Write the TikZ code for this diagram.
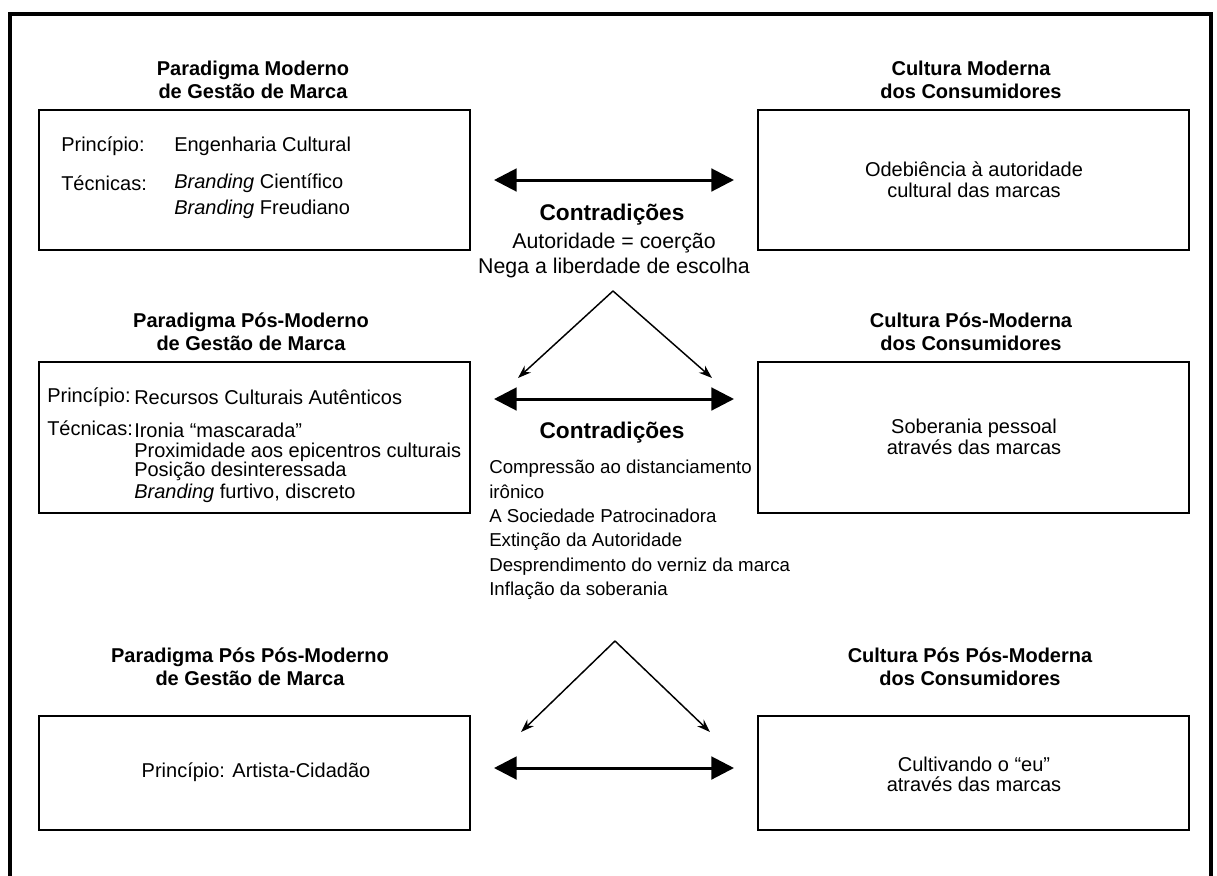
\documentclass[tikz,border=0pt]{standalone}
\usepackage{fontspec}
\setmainfont{Liberation Sans}
\usetikzlibrary{arrows.meta}
\begin{document}
\begin{tikzpicture}[x=0.75pt,y=-0.75pt,
 box/.style={draw,line width=1.5pt,minimum width=323.25pt,inner sep=0pt},
 head/.style={font=\fontsize{15}{17.25}\selectfont\bfseries,align=center,inner sep=0pt},
 txt/.style={font=\fontsize{15}{19}\selectfont,inner sep=0pt,anchor=west},
 ctxt/.style={font=\fontsize{15}{15.5}\selectfont,align=center,inner sep=0pt},
 ctitle/.style={font=\fontsize{17}{20}\selectfont\bfseries,inner sep=0pt},
 clist/.style={font=\fontsize{16}{18.75}\selectfont,align=center,inner sep=0pt},
 bigarrow/.style={line width=2.25pt,{Triangle[length=17pt,width=17pt]}-{Triangle[length=17pt,width=17pt]}},
 thinarrow/.style={line width=1.1pt,-{Stealth[length=10pt,width=7pt]}}]
\useasboundingbox (0,0) rectangle (1217,875);
\fill[white] (0,0) rectangle (1217,875);
\draw[line width=3pt] (10,14) rectangle (1211,910);

% headers
\node[head] (h1) at (253,79.5) {Paradigma Moderno\\de Gestão de Marca};
\node[head] (h2) at (971,79.5) {Cultura Moderna\\dos Consumidores};
\node[head] (h3) at (251,331.5) {Paradigma Pós-Moderno\\de Gestão de Marca};
\node[head] (h4) at (971,331.5) {Cultura Pós-Moderna\\dos Consumidores};
\node[head] (h5) at (250,667) {Paradigma Pós Pós-Moderno\\de Gestão de Marca};
\node[head] (h6) at (970,667) {Cultura Pós Pós-Moderna\\dos Consumidores};

% boxes
\node[box,minimum height=105pt] (b1) at (254.5,180) {};
\node[box,minimum height=105pt] (b2) at (973.5,180) {};
\node[box,minimum height=113.25pt] (b3) at (254.5,437.5) {};
\node[box,minimum height=113.25pt] (b4) at (973.5,437.5) {};
\node[box,minimum height=85.5pt] (b5) at (254.5,773) {};
\node[box,minimum height=85.5pt] (b6) at (973.5,773) {};

% box 1 text
\node[txt] (p1l) at (61,146) {Princípio:};
\node[txt] (p1r) at (174,146) {Engenharia Cultural};
\node[txt] (t1l) at (61,183) {Técnicas:};
\node[txt] (t1a) at (174,183) {\textit{Branding} Científico};
\node[txt] (t1b) at (174,209) {\textit{Branding} Freudiano};

% box 2 text
\node[ctxt] (c2) at (974,179.5) {Odebiência à autoridade\\cultural das marcas};

% box 3 text
\node[txt] (p3l) at (47,397) {Princípio:};
\node[txt] (p3r) at (134,397) {Recursos Culturais Autênticos};
\node[txt] (t3l) at (47,428) {Técnicas:};
\node[txt] (t3a) at (134,430) {Ironia “mascarada”};
\node[txt] (t3b) at (134,452) {Proximidade aos epicentros culturais};
\node[txt] (t3c) at (134,471) {Posição desinteressada};
\node[txt] (t3d) at (134,493) {\textit{Branding} furtivo, discreto};

% box 4 text
\node[ctxt] (c4) at (974,437) {Soberania pessoal\\através das marcas};

% box 5 / 6 text
\node[ctxt] (c5) at (256,772) {Princípio: Artista-Cidadão};
\node[ctxt] (c6) at (974,774.5) {Cultivando o “eu”\\através das marcas};

% contradictions 1
\node[ctitle] (k1) at (612,215) {Contradições};
\node[clist] (k1l) at (614,255.5) {Autoridade = coerção\\Nega a liberdade de escolha};

% contradictions 2
\node[ctitle] (k2) at (612,433) {Contradições};
\node[font=\fontsize{14}{18.3}\selectfont,align=left,inner sep=0pt,anchor=west] (k2l) at (489,530)
 {Compressão ao distanciamento\\irônico\\A Sociedade Patrocinadora\\Extinção da Autoridade\\Desprendimento do verniz da marca\\Inflação da soberania};

% arrow coordinates
\coordinate (a1l) at (494,180);
\coordinate (a1r) at (734,180);
\coordinate (a2l) at (494,399);
\coordinate (a2r) at (734,399);
\coordinate (a3l) at (494,768);
\coordinate (a3r) at (734,768);
\coordinate (ap1) at (613,291);
\coordinate (d1l) at (518,378);
\coordinate (d1r) at (712,378);
\coordinate (ap2) at (615,641);
\coordinate (d2l) at (521,732);
\coordinate (d2r) at (710,732);

\draw[bigarrow] (a1l) -- (a1r);
\draw[bigarrow] (a2l) -- (a2r);
\draw[bigarrow] (a3l) -- (a3r);
\draw[thinarrow] (ap1) -- (d1l);
\draw[thinarrow] (ap1) -- (d1r);
\draw[thinarrow] (ap2) -- (d2l);
\draw[thinarrow] (ap2) -- (d2r);
\end{tikzpicture}
\end{document}
